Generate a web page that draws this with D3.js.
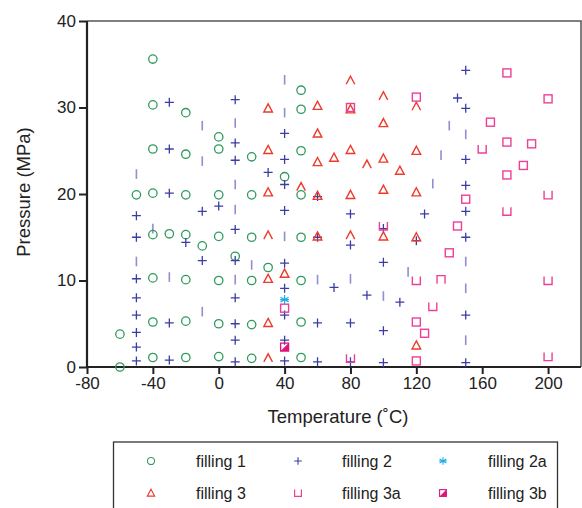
<!DOCTYPE html>
<html><head><meta charset="utf-8">
<script src="https://cdn.jsdelivr.net/npm/d3@7"></script>
<style>body{margin:0;background:#fff}svg{display:block}text{font-family:"Liberation Sans",Arial,Helvetica,sans-serif;fill:#222}</style>
</head><body><svg id="c" width="582" height="508"></svg>
<script>
// ---- data (temperature °C, pressure MPa) ----
const xTicks = [-80, -40, 0, 40, 80, 120, 160, 200];
const yTicks = [0, 10, 20, 30, 40];
const filling1 = [[-60,0],[-60,3.8],[-50,19.9],
  [-40,35.6],[-40,30.3],[-40,25.2],[-40,20.1],[-40,15.3],[-40,10.3],[-40,5.2],[-40,1.1],
  [-30,15.4],[-20,29.4],[-20,24.6],[-20,19.9],[-20,15.3],[-20,10.1],[-20,5.3],[-20,1.1],
  [-10,14.0],[0,26.6],[0,25.2],[0,19.9],[0,15.1],[0,10.0],[0,5.0],[0,1.2],[10,12.8],
  [20,24.3],[20,19.9],[20,15.0],[20,10.0],[20,4.9],[20,1.0],[30,11.5],[40,22.0],
  [50,32.0],[50,29.8],[50,25.0],[50,19.9],[50,15.0],[50,10.0],[50,5.2],[50,1.1]];
const filling2 = [[-50,17.5],[-50,15.0],[-50,10.2],[-50,8.0],[-50,6.0],[-50,4.0],[-50,2.3],[-50,0.7],
  [-30,30.6],[-30,25.2],[-30,20.1],[-30,5.1],[-30,0.8],[-20,14.4],[-10,18.0],[-10,12.3],[0,18.6],
  [10,30.9],[10,25.9],[10,23.9],[10,15.9],[10,12.3],[10,8.0],[10,5.0],[10,3.1],[10,0.6],[30,22.5],
  [40,27.0],[40,24.0],[40,21.1],[40,18.1],[40,12.0],[40,9.1],[40,6.0],[40,3.1],[40,0.7],
  [60,19.7],[60,15.0],[60,5.1],[60,0.6],[70,9.2],[80,17.7],[80,14.1],[80,5.1],[80,0.6],[90,8.3],
  [100,16.0],[100,12.1],[100,4.2],[100,0.5],[110,7.5],[120,14.6],[125,17.7],[145,31.1],
  [150,34.3],[150,29.9],[150,24.0],[150,21.0],[150,18.0],[150,15.0],[150,6.0],[150,0.5]];
// faint, partly printed "+" marks (only the vertical stroke visible)
const filling2Faint = [[-50,22.3],[-50,12.2],[-40,16.0],[-30,10.4],[-10,27.9],[-10,23.8],[-10,6.4],
  [10,28.2],[10,21.1],[10,18.2],[10,10.1],[20,11.8],[40,33.2],[40,29.4],[40,15.1],[60,10.1],[80,10.2],
  [100,8.2],[115,11.0],[130,21.2],[135,24.5],[140,27.9],[150,26.9],[150,12.2],[150,9.1],[150,3.1]];
const filling2a = [[40,7.8]];
const filling3 = [[30,29.9],[30,25.1],[30,20.2],[30,10.2],[30,5.1],[40,10.8],[60,30.2],[60,27.0],
  [60,23.7],[60,19.8],[60,15.1],[70,24.2],[80,29.8],[80,25.1],[80,19.9],[100,28.2],[100,24.1],
  [100,20.5],[100,15.1],[110,22.7],[120,25.0],[120,20.2],[120,15.0],[120,2.5]];
const filling3Open = [[30,15.2],[30,1.0],[50,20.8],[80,33.1],[80,15.2],[90,23.4],[100,31.3],[120,30.1]];
const filling3a = [[40,6.8],[80,30.0],[120,31.2],[120,5.2],[120,0.7],[125,3.9],[140,13.2],[145,16.3],
  [150,19.4],[165,28.3],[175,34.0],[175,26.0],[175,22.2],[185,23.3],[190,25.8],[200,31.0]];
const filling3aCup = [[80,1.0],[100,16.3],[120,10.0],[130,7.0],[160,25.2],[175,18.0],[200,19.9],[200,10.0],[200,1.2]];
const filling3aCap = [[135,10.1]];
const filling3b = [[40,2.3]];
const legendLabels = ["filling 1","filling 2","filling 2a","filling 3","filling 3a","filling 3b"];

// ---- layout ----
const svg = d3.select("#c");
const x = d3.scaleLinear().domain([-80,220]).range([87,581]);
const y = d3.scaleLinear().domain([0,40]).range([367,21]);

const C = {g:"#2f9a5e", b:"#3c3ca6", f:"#8e8ed2", r:"#ee3a2a", p:"#ec3f98", c:"#1eaee8", m:"#e0137a"};
const shapes = {
  circle: g => g.append("circle").attr("r",4.2).attr("fill","none").attr("stroke",C.g).attr("stroke-width",1.3),
  plus: g => g.append("path").attr("d","M-4.5,0H4.5M0,-4.5V4.5").attr("stroke",C.b).attr("stroke-width",1.3),
  bar: g => g.append("path").attr("d","M0,-4.8V4.8").attr("stroke",C.f).attr("stroke-width",1.6),
  star: g => g.append("path").attr("d","M0,-4.5V4.5M-4,-2.3L4,2.3M-4,2.3L4,-2.3M-4.5,0H4.5").attr("stroke",C.c).attr("stroke-width",1.3),
  tri: g => g.append("path").attr("d","M0,-4.5L4.3,3.6H-4.3Z").attr("fill","none").attr("stroke",C.r).attr("stroke-width",1.4),
  lambda: g => g.append("path").attr("d","M-4.3,3.6L0,-4.5L4.3,3.6").attr("fill","none").attr("stroke",C.r).attr("stroke-width",1.4),
  square: g => g.append("rect").attr("x",-4).attr("y",-4).attr("width",8).attr("height",8).attr("fill","none").attr("stroke",C.p).attr("stroke-width",1.4),
  cup: g => g.append("path").attr("d","M-4,-4V4H4V-4").attr("fill","none").attr("stroke",C.p).attr("stroke-width",1.4),
  cap: g => g.append("path").attr("d","M-4,4V-4H4V4").attr("fill","none").attr("stroke",C.p).attr("stroke-width",1.4),
  half: g => { g.append("rect").attr("x",-4).attr("y",-4).attr("width",8).attr("height",8).attr("fill","none").attr("stroke",C.m).attr("stroke-width",1.3);
               g.append("path").attr("d","M4,-4V4H-4Z").attr("fill",C.m); }
};

// frame (top/right thin)
svg.append("path").attr("d",`M${x(-80)},${y(40)}H${x(220)}V${y(0)}`).attr("fill","none").attr("stroke","#555").attr("stroke-width",1.5);

// axes
const fmt = d => (d < 0 ? "-" + Math.abs(d) : String(d));
const xAxis = svg.append("g").attr("transform",`translate(0,${y(0)})`)
  .call(d3.axisBottom(x).tickValues(xTicks).tickSize(7).tickPadding(3).tickFormat(fmt));
const yAxis = svg.append("g").attr("transform",`translate(${x(-80)},0)`)
  .call(d3.axisLeft(y).tickValues(yTicks).tickSize(8).tickPadding(3).tickFormat(fmt));
[xAxis,yAxis].forEach(a=>{
  a.select(".domain").attr("stroke","#222").attr("stroke-width",2.2);
  a.selectAll(".tick line").attr("stroke","#222").attr("stroke-width",2);
  a.selectAll(".tick text").attr("font-size",17).attr("fill","#222").style("font-family","Liberation Sans, Arial, sans-serif");
});
xAxis.select(".domain").attr("d",`M${x(-80)},0H${x(220)}`);
yAxis.select(".domain").attr("d",`M0,${y(0)}V${y(40)}`);

// marks
function plot(data, shape){
  svg.append("g").selectAll("g").data(data).join("g")
    .attr("transform",d=>`translate(${x(d[0])},${y(d[1])})`)
    .each(function(){ shapes[shape](d3.select(this)); });
}
plot(filling2Faint,"bar");
plot(filling1,"circle");
plot(filling2,"plus");
plot(filling3,"tri");
plot(filling3Open,"lambda");
plot(filling3a,"square");
plot(filling3aCup,"cup");
plot(filling3aCap,"cap");
plot(filling2a,"star");
plot(filling3b,"half");

// axis titles
svg.append("text").attr("x",338).attr("y",423).attr("text-anchor","middle").attr("font-size",18.5).text("Temperature (˚C)");
svg.append("text").attr("transform","translate(30,192) rotate(-90)").attr("text-anchor","middle").attr("font-size",18.5).text("Pressure (MPa)");

// legend
svg.append("rect").attr("x",113.5).attr("y",442).attr("width",444).attr("height",80).attr("fill","none").attr("stroke","#333").attr("stroke-width",1.3);
const legShapes = ["circle","plus","star","tri","cup","half"];
const symX = [151,298,443], txtX = [196,342,488], rowY = [461,493];
legendLabels.forEach((lab,i)=>{
  const col = i%3, row = Math.floor(i/3);
  const g = svg.append("g").attr("transform",`translate(${symX[col]},${rowY[row]}) scale(0.85)`);
  shapes[legShapes[i]](g);
  svg.append("text").attr("x",txtX[col]).attr("y",rowY[row]+5.5).attr("font-size",16).text(lab);
});
</script></body></html>
